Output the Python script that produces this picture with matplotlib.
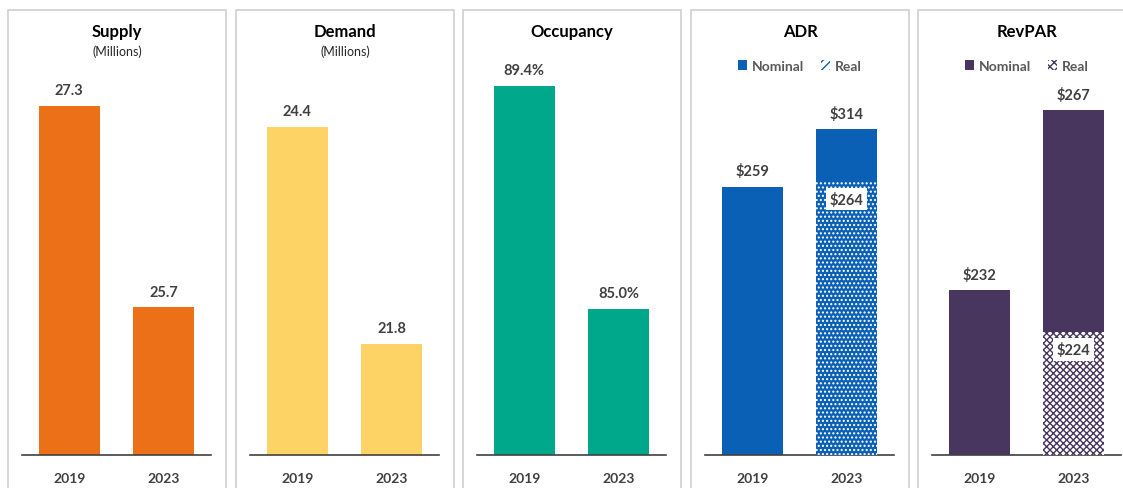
import matplotlib

matplotlib.use("Agg")
import matplotlib.pyplot as plt
from matplotlib.patches import Rectangle, Patch

plt.rcParams["font.family"] = ["Lato", "DejaVu Sans"]
plt.rcParams["hatch.linewidth"] = 1.0

# data
years = ["2019", "2023"]
titles = ["Supply", "Demand", "Occupancy", "ADR", "RevPAR"]
subtitles = ["(Millions)", "(Millions)", "", "", ""]
supply = [27.3, 25.7]
demand = [24.4, 21.8]
occupancy = [89.4, 85.0]
adr_nominal = [259, 314]
adr_real = [None, 264]
revpar_nominal = [232, 267]
revpar_real = [None, 224]

values = [supply, demand, occupancy, adr_nominal, revpar_nominal]
reals = [None, None, None, adr_real, revpar_real]
fmts = ["{:.1f}", "{:.1f}", "{:.1f}%", "${:.0f}", "${:.0f}"]
ylims = [(24.53, 27.67), (20.47, 25.21), (82.12, 89.93), (0, 382), (200, 277)]
colors = ["#EC7017", "#FDD365", "#00A88B", "#0A60B4", "#48365E"]

W, H = 1123, 489
fig = plt.figure(figsize=(W / 100, H / 100), dpi=100)

panel_lefts = [8, 236, 463, 691, 918]
panel_w = 218
base_y, top_y = 456, 60
label_c = "#404040"

for i, left in enumerate(panel_lefts):
    fig.patches.append(Rectangle((left / W, -0.1), panel_w / W, (H - 11) / H + 0.1,
                                 transform=fig.transFigure, fill=False,
                                 edgecolor="#d0d0d0", lw=1.2))
    ax = fig.add_axes([(left + 14) / W, (H - base_y) / H, 189 / W, (base_y - top_y) / H])
    x = [0, 1]
    vals = values[i]
    ax.bar(x, vals, width=0.65, color=colors[i], zorder=2)
    lo, hi = ylims[i]
    rng = hi - lo
    if reals[i] is not None:
        r = reals[i][1]
        if i == 3:
            ax.bar(1, r - lo, bottom=lo, width=0.65, color=colors[i], edgecolor="white",
                   hatch="....", lw=0, zorder=3)
            handle_real = Patch(facecolor="white", edgecolor=colors[i], hatch="////", lw=0)
        else:
            ax.bar(1, r - lo, bottom=lo, width=0.65, color="white", edgecolor=colors[i],
                   hatch="xxxxx", lw=0, zorder=3)
            handle_real = Patch(facecolor="white", edgecolor=colors[i], hatch="xxxx", lw=0)
        ax.text(1, r - rng * 0.045, fmts[i].format(r), ha="center", va="center",
                fontsize=10.5, fontweight="bold", color=label_c, zorder=5,
                bbox=dict(boxstyle="square,pad=0.25", fc="white", ec="none"))
        handles = [Patch(facecolor=colors[i], lw=0), handle_real]
        leg = ax.legend(handles, ["Nominal", "Real"], ncol=2, loc="center",
                        bbox_to_anchor=(0.5, 1.0 - 7 / 396), frameon=False,
                        handlelength=0.7, handleheight=0.7, handletextpad=0.3,
                        columnspacing=1.2, prop={"size": 10, "weight": "bold"})
        for t in leg.get_texts():
            t.set_color("#595959")
    for xi, v in zip(x, vals):
        ax.text(xi, v + rng * 0.022, fmts[i].format(v), ha="center", va="bottom",
                fontsize=10.5, fontweight="bold", color=label_c)
    ax.set_xlim(-0.5, 1.5)
    ax.set_ylim(lo, hi)
    ax.set_xticks(x)
    ax.set_xticklabels(years, fontsize=10, fontweight="bold", color=label_c)
    ax.tick_params(axis="x", length=0, pad=12)
    ax.set_yticks([])
    for s in ["top", "right", "left"]:
        ax.spines[s].set_visible(False)
    ax.spines["bottom"].set_color("#404040")
    ax.spines["bottom"].set_linewidth(1.2)
    ax.set_facecolor("none")
    cx = (left + panel_w / 2) / W
    fig.text(cx, 1 - 32 / H, titles[i], ha="center", va="center", fontsize=12,
             fontweight="bold", color="black")
    if subtitles[i]:
        fig.text(cx, 1 - 52 / H, subtitles[i], ha="center", va="center", fontsize=9,
                 color="#262626")

fig.savefig("out.png", dpi=100)
